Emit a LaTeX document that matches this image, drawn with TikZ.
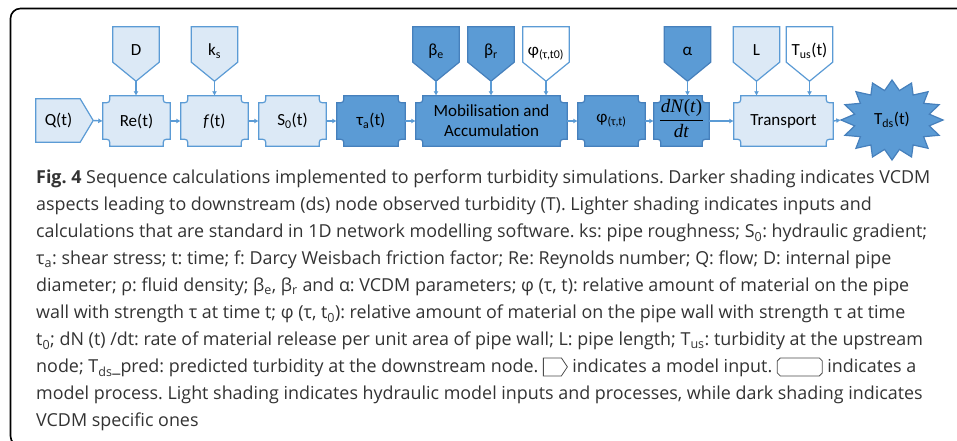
\documentclass[tikz,border=0pt]{standalone}
\usepackage[no-math]{fontspec}
\setmainfont{Carlito}
\newfontfamily\capfont{Open Sans}
\newfontfamily\fracfont{Liberation Serif}
\usetikzlibrary{arrows.meta,calc,backgrounds}
\definecolor{lightfill}{HTML}{DCE9F6}
\definecolor{lightline}{HTML}{5B9BD5}
\definecolor{darkfill}{HTML}{5B9BD5}
\definecolor{darkline}{HTML}{4680BC}
\definecolor{arrowc}{HTML}{5B9BD5}
\definecolor{captext}{HTML}{333333}
\tikzset{
 box/.style={minimum width=67pt, minimum height=50pt, inner sep=0pt, align=center, font=\fontsize{17}{20}\selectfont},
 inbox/.style={minimum width=46pt, minimum height=54pt, inner sep=0pt, text height=12pt, text depth=9pt, font=\fontsize{17}{20}\selectfont},
 lightsh/.style={fill=lightfill, draw=lightline, line width=1.2pt},
 darksh/.style={fill=darkfill, draw=darkline, line width=1.2pt},
 whitesh/.style={fill=white, draw=lightline, line width=1.2pt},
 arr/.style={draw=arrowc, line width=1.4pt, -{Latex[length=4.5pt,width=5pt]}},
}
\newcommand\procshape[2]{\path[#2] let \p1=(#1.north west), \p2=(#1.south east) in
 (\x1+7pt,\y1) -- (\x2-7pt,\y1) .. controls (\x2-7pt,\y1-7pt) .. (\x2,\y1-7pt)
 -- (\x2,\y2+7pt) .. controls (\x2-7pt,\y2+7pt) .. (\x2-7pt,\y2)
 -- (\x1+7pt,\y2) .. controls (\x1+7pt,\y2+7pt) .. (\x1,\y2+7pt)
 -- (\x1,\y1-7pt) .. controls (\x1+7pt,\y1-7pt) .. (\x1+7pt,\y1) -- cycle;}
\newcommand\downshape[2]{\path[#2] let \p1=(#1.north west), \p2=(#1.south east) in
 (\x1,\y1) -- (\x2,\y1) -- (\x2,\y2+19pt) -- (#1.south) -- (\x1,\y2+19pt) -- cycle;}
\newcommand\rightshape[2]{\path[#2] let \p1=(#1.north west), \p2=(#1.south east) in
 (\x1,\y1) -- (\x2-13pt,\y1) -- (#1.east) -- (\x2-13pt,\y2) -- (\x1,\y2) -- cycle;}
\newcommand\inicon{\tikz[x=1pt,y=1pt,baseline=3pt]\draw[line width=0.8pt, draw=black!70] (0,0) -- (18,0) -- (24,9) -- (18,18) -- (0,18) -- cycle;}
\newcommand\procicon{\tikz[x=1pt,y=1pt,baseline=3pt]\draw[line width=0.8pt, draw=black!70] (3,0) -- (42,0) -- (45,3) -- (45,15) -- (42,18) -- (3,18) -- (0,15) -- (0,3) -- cycle;}
\newcommand\dNdt{{\fracfont\fontsize{19}{21}\selectfont\setlength\tabcolsep{1pt}\setlength\arrayrulewidth{1pt}\begin{tabular}{c}\textit{dN}(\textit{t})\\[1pt]\hline\rule{0pt}{17pt}\textit{dt}\end{tabular}}}
\begin{document}
\begin{tikzpicture}[x=1pt,y=-1pt]
\useasboundingbox (0,0) rectangle (957,441);
\draw[line width=1.6pt, black, rounded corners=10pt] (975,8.5) -- (10.5,8.5) -- (10.5,446) -- (975,446);

% main row
\node[box, minimum width=57pt, minimum height=43pt] (Q) at (64.5,120.5) {\hspace*{-12pt}Q(t)};
\node[box] (Re) at (136.5,121) {Re(t)};
\node[box] (f) at (214.5,121) {\textit{f}(t)};
\node[box] (S0) at (292.5,121) {S\textsubscript{0}(t)};
\node[box, minimum width=68pt] (ta) at (371,121) {τ\textsubscript{a}(t)};
\node[box, minimum width=151pt] (mob) at (491.5,121) {Mobilisation and\\Accumulation};
\node[box] (phi) at (611.5,121) {φ\textsubscript{(τ,t)}};
\node[box, minimum width=55pt] (dN) at (681.5,121) {\dNdt};
\node[box, minimum width=99pt] (tr) at (783.5,121) {Transport};
\node[box, minimum width=102pt, minimum height=80pt] (Tds) at (892,120) {T\textsubscript{ds}(t)};

% inputs
\node[inbox] (D) at (136,54) {D};
\node[inbox] (ks) at (214.5,54) {k\textsubscript{s}};
\node[inbox] (be) at (436,54) {β\textsubscript{e}};
\node[inbox] (br) at (491,54) {β\textsubscript{r}};
\node[inbox] (p0) at (546,54) {φ\textsubscript{(τ,t0)}};
\node[inbox] (al) at (687.5,54) {α};
\node[inbox] (L) at (756.5,54) {L};
\node[inbox] (Tus) at (809.5,54) {T\textsubscript{us}(t)};

\begin{pgfonlayer}{background}
\fill[white] (0,0) rectangle (957,441);
\rightshape{Q}{lightsh}
\procshape{Re}{lightsh}
\procshape{f}{lightsh}
\procshape{S0}{lightsh}
\procshape{ta}{darksh}
\procshape{mob}{darksh}
\procshape{phi}{darksh}
\procshape{dN}{darksh}
\procshape{tr}{lightsh}
\path[darksh] plot[domain=0:31, samples=32] ({892+(51-13*mod(\x,2))*cos(\x*11.25)}, {120+(40-10*mod(\x,2))*sin(\x*11.25)}) -- cycle;
\downshape{D}{lightsh}
\downshape{ks}{lightsh}
\downshape{be}{darksh}
\downshape{br}{darksh}
\downshape{p0}{whitesh}
\downshape{al}{darksh}
\downshape{L}{lightsh}
\downshape{Tus}{whitesh}
\end{pgfonlayer}

% connectors
\draw[arr] (Q.east) -- (Re.west);
\draw[arr] (Re.east) -- (f.west);
\draw[arr] (f.east) -- (S0.west);
\draw[arr] (S0.east) -- (ta.west);
\draw[arr] (ta.east) -- (mob.west);
\draw[arr] (mob.east) -- (phi.west);
\draw[arr] (phi.east) -- (dN.west);
\draw[arr] (dN.east) -- (tr.west);
\draw[arr] (tr.east) -- (Tds.west);
\draw[arr] (D.south) -- (D.south |- Re.north);
\draw[arr] (ks.south) -- (ks.south |- f.north);
\draw[arr] (be.south) -- (be.south |- mob.north);
\draw[arr] (br.south) -- (br.south |- mob.north);
\draw[arr] (p0.south) -- (p0.south |- mob.north);
\draw[arr] (al.south) -- (al.south |- dN.north);
\draw[arr] (L.south) -- (L.south |- tr.north);
\draw[arr] (Tus.south) -- (Tus.south |- tr.north);

% caption
\node[anchor=north west, align=left, inner sep=0pt, font=\capfont\fontsize{17.9}{27}\selectfont\frenchspacing, text=captext] (cap) at (36,170) {%
\textbf{Fig. 4} Sequence calculations implemented to perform turbidity simulations. Darker shading indicates VCDM\\
aspects leading to downstream (ds) node observed turbidity (T). Lighter shading indicates inputs and\\
calculations that are standard in 1D network modelling software. ks: pipe roughness; S\textsubscript{0}: hydraulic gradient;\\
τ\textsubscript{a}: shear stress; t: time; f: Darcy Weisbach friction factor; Re: Reynolds number; Q: flow; D: internal pipe\\
diameter; ρ: fluid density; β\textsubscript{e}, β\textsubscript{r} and α: VCDM parameters; φ (τ, t): relative amount of material on the pipe\\
wall with strength τ at time t; φ (τ, t\textsubscript{0}): relative amount of material on the pipe wall with strength τ at time\\
t\textsubscript{0}; dN (t) /dt: rate of material release per unit area of pipe wall; L: pipe length; T\textsubscript{us}: turbidity at the upstream\\
node; T\textsubscript{ds}\_pred: predicted turbidity at the downstream node. \inicon{} indicates a model input. \procicon{} indicates a\\
model process. Light shading indicates hydraulic model inputs and processes, while dark shading indicates\\
VCDM specific ones};
\end{tikzpicture}
\end{document}
